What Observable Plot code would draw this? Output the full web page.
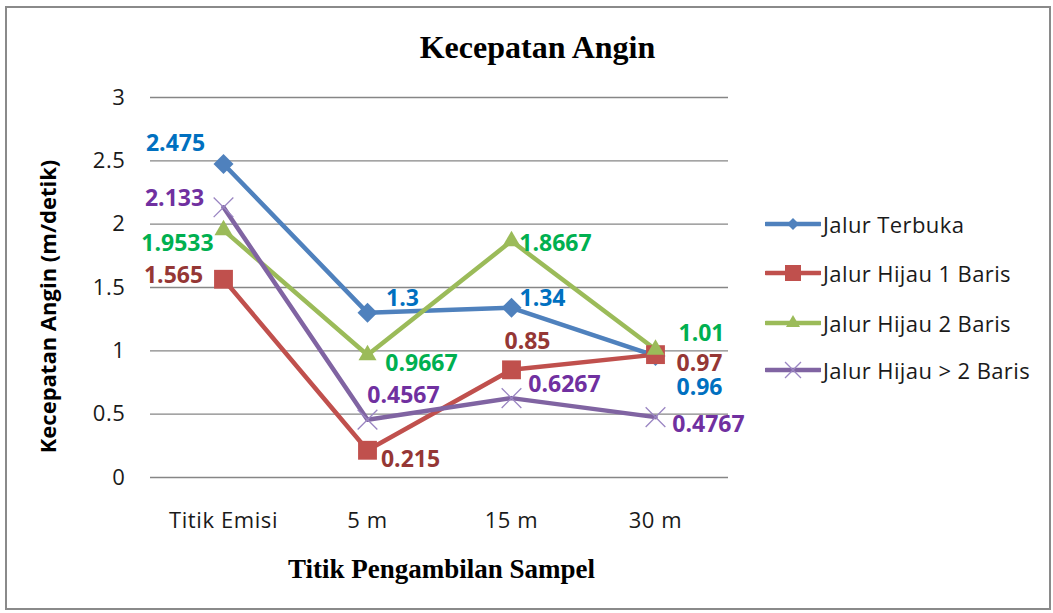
<!DOCTYPE html>
<html><head><meta charset="utf-8">
<script src="https://cdn.jsdelivr.net/npm/d3@7"></script>
<script src="https://cdn.jsdelivr.net/npm/@observablehq/plot@0.6"></script>
<style>
body{margin:0;background:#fff;}
#wrap{position:relative;width:1053px;height:613px;overflow:hidden;background:#fff;}
#frame{position:absolute;left:5px;top:6px;width:1046px;height:604px;border:2px solid #8a8a8a;box-sizing:border-box;}
#chart{position:absolute;left:0;top:0;}
.lrow{position:absolute;left:765px;height:24px;display:flex;align-items:center;white-space:nowrap;font-family:"Open Sans",sans-serif;font-size:22px;letter-spacing:0.4px;color:#1a1a1a;}
.lrow svg{display:block;margin-right:2px;}
.tick-text text{letter-spacing:0.6px;}
</style></head>
<body>
<div id="wrap"><div id="frame"></div><div id="chart"></div><div id="legend"></div></div>
<script>
// ---- data ----
const categories = ["Titik Emisi", "5 m", "15 m", "30 m"];
const seriesNames = ["Jalur Terbuka", "Jalur Hijau 1 Baris", "Jalur Hijau 2 Baris", "Jalur Hijau > 2 Baris"];
const jalurTerbuka = [2.475, 1.3, 1.34, 0.96];
const jalurHijau1Baris = [1.565, 0.215, 0.85, 0.97];
const jalurHijau2Baris = [1.9533, 0.9667, 1.8667, 1.01];
const jalurHijauLebih2Baris = [2.133, 0.4567, 0.6267, 0.4767];
const yTicks = [0, 0.5, 1, 1.5, 2, 2.5, 3];
const chartTitle = "Kecepatan Angin";
const xTitle = "Titik Pengambilan Sampel";
const yTitle = "Kecepatan Angin (m/detik)";

// ---- rendering ----
const seriesValues = [jalurTerbuka, jalurHijau1Baris, jalurHijau2Baris, jalurHijauLebih2Baris];
const lineColors = ["#4F81BD", "#C0504D", "#9BBB59", "#8064A2"];
const labelColors = ["#0070C0", "#953735", "#00B050", "#7030A0"];
const symbols = ["diamond2", "square2", "triangle2", "times"];
const markerR = [9, 12, 8.6, 9];
const nudges = [
  [[-48, -20], [35, -14], [31, -9], [44, 32]],
  [[-50, -4], [43, 9], [16, -28], [44, 9]],
  [[-46, 14], [54, 9], [44, 3], [46, -16]],
  [[-49, -9], [36, -24], [53, -13], [53, 8]]
];
const rows = seriesNames.flatMap((s, i) => categories.map((c, j) => ({series: s, si: i, cat: c, ci: j, value: seriesValues[i][j]})));

const marks = [
  Plot.gridY(yTicks, {stroke: "#868686", strokeOpacity: 1, strokeWidth: 1.3}),
  Plot.axisY(yTicks, {tickSize: 0, tickPadding: 25, fontSize: 22, label: null, tickFormat: d => String(d), fill: "#1a1a1a", className: "tick-text"}),
  Plot.axisX({tickSize: 0, tickPadding: 35, fontSize: 22, label: null, fill: "#1a1a1a", className: "tick-text"})
];
seriesNames.forEach((s, i) => {
  marks.push(Plot.line(rows.filter(r => r.si === i), {x: "cat", y: "value", stroke: lineColors[i], strokeWidth: 4.5}));
});
seriesNames.forEach((s, i) => {
  const d = rows.filter(r => r.si === i);
  if (symbols[i] === "times") marks.push(Plot.dot(d, {x: "cat", y: "value", symbol: "times", r: markerR[i], stroke: "#9A85C2", strokeWidth: 1.3}));
  else marks.push(Plot.dot(d, {x: "cat", y: "value", symbol: symbols[i], r: markerR[i], fill: lineColors[i]}));
});
rows.forEach(r => {
  const [dx, dy] = nudges[r.si][r.ci];
  marks.push(Plot.text([r], {x: "cat", y: "value", text: d => String(d.value), dx, dy, fill: labelColors[r.si], fontSize: 23, fontWeight: "bold", fontFamily: "Open Sans"}));
});
marks.push(Plot.text([chartTitle], {text: d => d, frameAnchor: "top", textAnchor: "middle", lineAnchor: "middle", dx: 98, dy: -50, fontFamily: "Liberation Serif", fontWeight: "bold", fontSize: 32, fill: "#000"}));
marks.push(Plot.text([xTitle], {text: d => d, frameAnchor: "bottom", textAnchor: "middle", lineAnchor: "middle", dx: 2, dy: 92, fontFamily: "Liberation Serif", fontWeight: "bold", fontSize: 27, fill: "#000"}));
marks.push(Plot.text([yTitle], {text: d => d, frameAnchor: "left", textAnchor: "middle", lineAnchor: "middle", dx: -102, dy: 19, rotate: -90, fontFamily: "Open Sans", fontWeight: "bold", fontSize: 22, fill: "#000"}));

const chart = Plot.plot({
  width: 1053, height: 613,
  marginLeft: 150, marginRight: 325, marginTop: 97, marginBottom: 136,
  x: {type: "point", domain: categories, padding: 0.5},
  y: {domain: [0, 3]},
  style: {fontFamily: "Open Sans", background: "transparent", overflow: "visible"},
  marks
});
document.getElementById("chart").appendChild(chart);

// legend
const legendSymbols = [d3.symbolDiamond2, d3.symbolSquare2, d3.symbolTriangle2, d3.symbolTimes];
const legendSizes = [92, 326, 140, 168];
const legendCenters = [224, 273, 323, 370];
const legend = d3.select("#legend");
seriesNames.forEach((s, i) => {
  const row = legend.append("div").attr("class", "lrow").style("top", (legendCenters[i] - 12) + "px");
  const svg = row.append("svg").attr("width", 56).attr("height", 24);
  svg.append("line").attr("x1", 1).attr("x2", 55).attr("y1", 12).attr("y2", 12)
    .attr("stroke", lineColors[i]).attr("stroke-width", 4.5).attr("stroke-linecap", "round");
  const p = svg.append("path").attr("transform", "translate(28,12)").attr("d", d3.symbol(legendSymbols[i], legendSizes[i])());
  if (i === 3) p.attr("fill", "none").attr("stroke", "#9A85C2").attr("stroke-width", 1.3);
  else p.attr("fill", lineColors[i]);
  row.append("span").text(s);
});
</script>
</body></html>
